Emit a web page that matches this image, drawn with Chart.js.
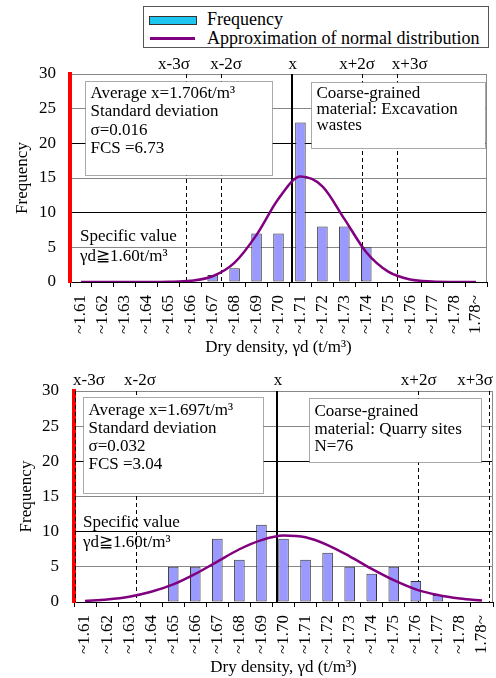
<!DOCTYPE html>
<html>
<head>
<meta charset="utf-8">
<script src="https://cdn.jsdelivr.net/npm/chart.js@4.4.0/dist/chart.umd.min.js"></script>
<style>
  html,body{margin:0;padding:0;background:#fff;}
  body{width:496px;height:678px;position:relative;overflow:hidden;font-family:"Liberation Serif","Times New Roman",serif;}
  canvas{position:absolute;left:0;}
  #c1{top:0;}
  #c2{top:360px;}
  #legend{position:absolute;left:143px;top:6px;width:346px;height:42px;border:1px solid #555;box-sizing:border-box;z-index:5;background:#fff;}
  .sw{position:absolute;left:5px;top:9px;width:46px;height:7px;background:#1cc6f0;border:1px solid #333;}
  .ln{position:absolute;left:6px;top:30px;width:45px;height:3px;background:#800080;}
  .lt{position:absolute;left:63px;font-size:18px;line-height:20px;color:#000;white-space:nowrap;}
</style>
</head>
<body>
<div id="legend">
  <div class="sw"></div><div class="lt" style="top:2px">Frequency</div>
  <div class="ln"></div><div class="lt" style="top:21px">Approximation of normal distribution</div>
</div>
<canvas id="c1" width="496" height="360"></canvas>
<canvas id="c2" width="496" height="318"></canvas>
<script>
// ---- data ----
const categories = ['~1.61','~1.62','~1.63','~1.64','~1.65','~1.66','~1.67','~1.68','~1.69','~1.70',
                    '~1.71','~1.72','~1.73','~1.74','~1.75','~1.76','~1.77','~1.78','1.78~'];
const excavationFreq  = [0,0,0,0,0,0,1,2,7,7,23,8,8,5,0,0,0,0,0];
const excavationCurve = [0,0,0,0.003,0.03,0.18,0.83,2.8,6.8,12.0,15.2,13.8,9.1,4.3,1.5,0.37,0.07,0.01,0];
const quarryFreq  = [0,0,0,0,5,5,9,6,11,9,6,7,5,4,5,3,1,0,0];
const quarryCurve = [0.15,0.36,0.75,1.45,2.5,4.0,5.75,7.5,8.8,9.45,9.2,8.1,6.5,4.7,3.1,1.8,1.0,0.5,0.2];
const sigmaLabels = ['x-3σ','x-2σ','x','x+2σ','x+3σ'];
const excavationSigmaLines = [1.658,1.674,1.706,1.738,1.754];
const quarrySigmaLines     = [1.6055,1.633,1.697,1.761,1.793];
const yMin = 0, yMax = 30, yStep = 5;

const FAM = '"Liberation Serif","Times New Roman",serif';
const toIdx = d => (d - 1.61) / 0.01;

const annotPlugin = {
  id: 'annot',
  beforeDatasetsDraw(chart, args, o) {
    const {ctx, chartArea: {left, right, top, bottom}, scales: {x, y}} = chart;
    ctx.save();
    // right border
    ctx.strokeStyle = '#888'; ctx.lineWidth = 1;
    ctx.beginPath(); ctx.moveTo(Math.round(right) - 0.5, top); ctx.lineTo(Math.round(right) - 0.5, bottom); ctx.stroke();
    // sigma lines
    o.lines.forEach((d, k) => {
      const px = x.getPixelForValue(toIdx(d));
      ctx.beginPath();
      ctx.strokeStyle = '#000';
      if (k === 2) { ctx.setLineDash([]); ctx.lineWidth = 2; }
      else { ctx.setLineDash([4, 3]); ctx.lineWidth = 1; }
      const xx = k === 2 ? Math.round(px) : Math.round(px) + 0.5;
      ctx.moveTo(xx, top); ctx.lineTo(xx, bottom); ctx.stroke();
    });
    ctx.setLineDash([]);
    ctx.font = '17px ' + FAM;
    ctx.fillStyle = '#000';
    ctx.textBaseline = 'middle';
    // boxes
    o.boxes.forEach(b => {
      const x1 = Math.round(x.getPixelForValue(b.x1)) + 0.5, x2 = Math.round(x.getPixelForValue(b.x2)) + 0.5;
      const y1 = Math.round(y.getPixelForValue(b.y1)) + 0.5, y2 = Math.round(y.getPixelForValue(b.y2)) + 0.5;
      ctx.fillStyle = '#fff';
      ctx.fillRect(x1, y1, x2 - x1, y2 - y1);
      ctx.strokeStyle = '#555'; ctx.lineWidth = 1; ctx.setLineDash([1, 1]);
      ctx.strokeRect(x1, y1, x2 - x1, y2 - y1);
      ctx.setLineDash([]);
      ctx.fillStyle = '#000'; ctx.textAlign = 'left';
      b.text.forEach((t, k) => ctx.fillText(t, x1 + 5, y1 + b.first + k * b.step));
    });
    // labels above plot
    ctx.textAlign = 'center';
    o.labels.forEach((t, k) => ctx.fillText(t, x.getPixelForValue(o.labelX[k]), y.getPixelForValue(o.labelY)));
    // specific value
    ctx.textAlign = 'left';
    o.specific.text.forEach((t, k) => ctx.fillText(t, x.getPixelForValue(o.specific.x), y.getPixelForValue(o.specific.y[k])));
    ctx.restore();
  }
};

function buildChart(id, freq, curve, ann, geo) {
  return new Chart(document.getElementById(id), {
    type: 'bar',
    data: {
      labels: categories,
      datasets: [
        {type: 'line', label: 'Approximation of normal distribution', data: curve, borderColor: '#800080',
         borderWidth: 2.5, pointRadius: 0, cubicInterpolationMode: 'monotone', fill: false, order: 0},
        {type: 'bar', label: 'Frequency', data: freq, backgroundColor: '#9999ff', borderColor: '#333',
         borderWidth: c => (c.raw ? 1 : 0), borderSkipped: false, barPercentage: 0.48, categoryPercentage: 1, order: 1}
      ]
    },
    options: {
      responsive: false, animation: false,
      layout: {padding: {top: geo.padTop, right: geo.padRight, left: 0, bottom: 0}},
      plugins: {legend: {display: false}, tooltip: {enabled: false}, annot: ann},
      scales: {
        x: {
          offset: true,
          grid: {display: true, drawOnChartArea: false, drawTicks: true, tickLength: 5, color: '#000', offset: true},
          border: {display: true, color: '#000', width: 1},
          ticks: {autoSkip: false, minRotation: 90, maxRotation: 90, padding: 8, color: '#000', font: {family: FAM, size: 17}},
          title: {display: true, text: 'Dry density, γd (t/m³)', color: '#000', font: {family: FAM, size: 17},
                  padding: {top: 0, bottom: geo.xTitlePad}},
          afterFit: s => { s.height = geo.xHeight; s.paddingLeft = 0; s.paddingRight = 0; }
        },
        y: {
          min: yMin, max: yMax,
          ticks: {stepSize: yStep, padding: geo.yTickPad, color: '#000', font: {family: FAM, size: 17}},
          grid: {drawTicks: false, lineWidth: 1,
                 color: c => (c.tick.value % 10 === 0 && c.tick.value !== 30) ? '#000' : '#888'},
          border: {display: true, color: '#ff0000', width: 4},
          title: {display: true, text: 'Frequency', color: '#000', font: {family: FAM, size: 17},
                  padding: {top: geo.yTitlePad, bottom: 0}},
          afterFit: s => { s.width = geo.yWidth; s.paddingTop = 0; s.paddingBottom = 0; }
        }
      }
    },
    plugins: [annotPlugin]
  });
}

buildChart('c1', excavationFreq, excavationCurve, {
  lines: excavationSigmaLines,
  labels: sigmaLabels, labelX: [4.24, 6.61, 9.65, 12.58, 14.98], labelY: 31.3,
  boxes: [
    {x1: 0.18, x2: 8.71, y1: 28.99, y2: 15.43, first: 12, step: 18.5,
     text: ['Average x=1.706t/m³', 'Standard deviation', 'σ=0.016', 'FCS =6.73']},
    {x1: 10.48, x2: 18.42, y1: 28.85, y2: 19.33, first: 11.5, step: 16,
     text: ['Coarse-grained', 'material: Excavation', 'wastes']}
  ],
  specific: {x: -0.04, y: [6.53, 3.65], text: ['Specific value', 'γd≧1.60t/m³']}
}, {padTop: 74, padRight: 9, xHeight: 78, yWidth: 70, yTickPad: 14, yTitlePad: 12, xTitlePad: 2});

buildChart('c2', quarryFreq, quarryCurve, {
  lines: quarrySigmaLines,
  labels: sigmaLabels, labelX: [0.18, 2.49, 8.75, 15.13, 17.69], labelY: 31.42,
  boxes: [
    {x1: -0.09, x2: 8.07, y1: 29.15, y2: 15.54, first: 13, step: 18,
     text: ['Average x=1.697t/m³', 'Standard deviation', 'σ=0.032', 'FCS =3.04']},
    {x1: 10.16, x2: 17.94, y1: 29.01, y2: 19.95, first: 13.5, step: 17.5,
     text: ['Coarse-grained', 'material: Quarry sites', 'N=76']}
  ],
  specific: {x: -0.09, y: [11.23, 8.39], text: ['Specific value', 'γd≧1.60t/m³']}
}, {padTop: 31, padRight: 3, xHeight: 76, yWidth: 74, yTickPad: 15, yTitlePad: 16, xTitlePad: 0});
</script>
</body>
</html>
